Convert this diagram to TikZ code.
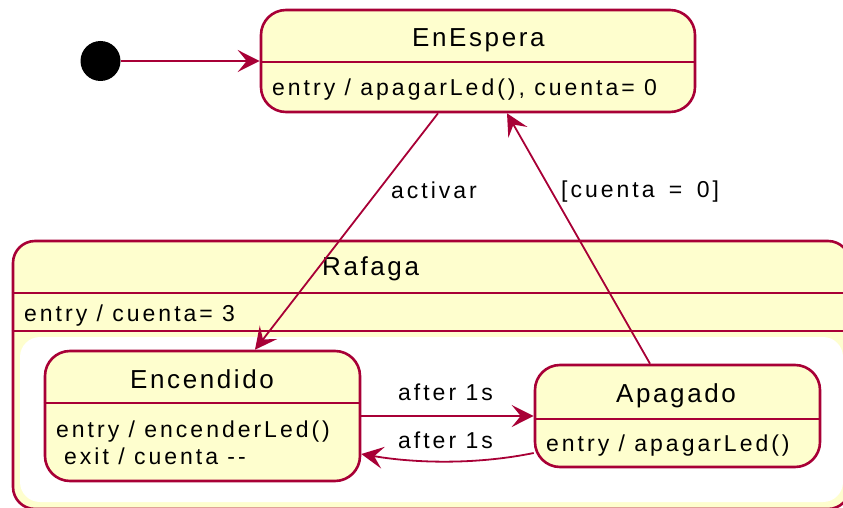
\documentclass[tikz,border=0pt]{standalone}
\usepackage{fontspec}
\setmainfont{Liberation Sans}
\newfontfamily\titlefont[LetterSpace=10]{Liberation Sans}
\newfontfamily\bodyfont[LetterSpace=13]{Liberation Sans}
\usepackage{tikz}
\usetikzlibrary{arrows.meta,positioning,calc}
\definecolor{crim}{HTML}{A80036}
\definecolor{pale}{HTML}{FEFECE}

\begin{document}
\begin{tikzpicture}[x=1pt,y=-1pt,
  statebox/.style={draw=crim,fill=pale,line width=2.6pt,rounded corners=25pt,inner sep=0pt},
  border/.style={draw=crim,line width=2.6pt},
  trans/.style={draw=crim,line width=1.8pt,-{Stealth[length=22pt,width=22pt,inset=9pt]}},
  ttl/.style={font=\titlefont\fontsize{26}{30}\selectfont,anchor=base west,inner sep=0pt},
  txt/.style={font=\bodyfont\fontsize{23}{27}\selectfont,anchor=base west,inner sep=0pt}]
  \useasboundingbox (0,0) rectangle (843,508);
  \clip (0,0) rectangle (843,508);

  % composite state and its region
  \node[statebox,rounded corners=22pt,minimum width=837pt,minimum height=268pt] (rafaga) at (431.5,375) {};
  \node[fill=white,rounded corners=20pt,inner sep=0pt,minimum width=823pt,minimum height=165pt] (region) at (431.5,419.5) {};

  % simple states
  \node[statebox,minimum width=434pt,minimum height=102pt] (espera) at (478,61) {};
  \node[statebox,minimum width=315pt,minimum height=130pt] (encendido) at (202.5,416) {};
  \node[statebox,minimum width=285pt,minimum height=102pt] (apagado) at (677.5,416) {};

  \foreach \s/\y in {rafaga/293,rafaga/331,espera/62,encendido/403,apagado/419}
    \draw[border] (\s.west |- 0,\y) -- (\s.east |- 0,\y);

  \node[ttl] (espera-t) at (412,47) {EnEspera};
  \node[txt] (espera-b) at (272,96) {entry / apagarLed(), cuenta= 0};
  \node[ttl] (rafaga-t) at (322,275) {Rafaga};
  \node[txt] (rafaga-b) at (24,321) {entry / cuenta= 3};
  \node[ttl] (encendido-t) at (130,388) {Encendido};
  \node[txt] (encendido-b) at (56,437) {entry / encenderLed()};
  \node[txt] (encendido-x) at (64,464) {exit / cuenta -{}-};
  \node[ttl] (apagado-t) at (616,402) {Apagado};
  \node[txt] (apagado-b) at (546,451) {entry / apagarLed()};

  % initial pseudo state
  \node[circle,fill=black,minimum size=40pt,inner sep=0pt] (init) at (100.5,61) {};

  % transitions
  \draw[trans] (init) -- (espera.west);
  \draw[trans] (espera.south -| 438,0) -- (encendido.north -| 255,0);
  \draw[trans] (apagado.north -| 650,0) -- (espera.south -| 507,0);
  \draw[trans] (encendido.east |- 0,416) -- (apagado.west |- 0,416);
  \draw[trans] (apagado.west |- 0,453) .. controls (480,464) and (420,464) .. (encendido.east |- 0,454);

  \node[txt] (l-activar) at (391,198) {activar};
  \node[txt] (l-cuenta) at (561,197) {[cuenta\hspace{5pt} = \hspace{5pt}0]};
  \node[txt] (l-after1) at (398,400) {after 1s};
  \node[txt] (l-after2) at (398,448) {after 1s};
\end{tikzpicture}
\end{document}
